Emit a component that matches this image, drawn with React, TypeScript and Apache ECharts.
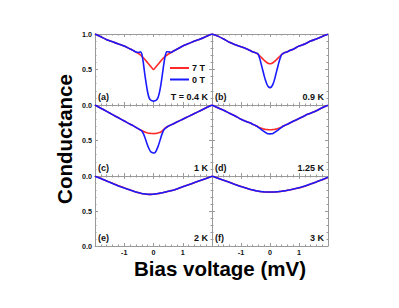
import React, { useEffect, useRef } from "react";
import * as echarts from "echarts";

const biasV = [
  -2, -1.8, -1.6, -1.4, -1.2, -1.0, -0.8, -0.7, -0.6, -0.5,
  -0.45, -0.4, -0.35, -0.3, -0.25, -0.2, -0.15, -0.1, -0.05, 0,
  0.05, 0.1, 0.15, 0.2, 0.25, 0.3, 0.35, 0.4, 0.45,
  0.5, 0.6, 0.7, 0.8, 1.0, 1.2, 1.4, 1.6, 1.8, 2.0,
];

// (a) T = 0.4 K
const a7T = [
  1.0, 0.96, 0.92, 0.89, 0.86, 0.83, 0.79, 0.77, 0.745, 0.72,
  0.705, 0.685, 0.665, 0.645, 0.62, 0.595, 0.57, 0.545, 0.52, 0.5,
  0.52, 0.545, 0.57, 0.595, 0.62, 0.645, 0.665, 0.685, 0.7,
  0.715, 0.74, 0.765, 0.785, 0.83, 0.865, 0.9, 0.93, 0.965, 1.0,
];
const a0T = [
  1.0, 0.96, 0.92, 0.89, 0.86, 0.83, 0.79, 0.77, 0.745, 0.74,
  0.75, 0.72, 0.6, 0.44, 0.3, 0.18, 0.1, 0.07, 0.06, 0.055,
  0.06, 0.07, 0.1, 0.17, 0.28, 0.42, 0.57, 0.69, 0.75,
  0.75, 0.74, 0.765, 0.785, 0.83, 0.865, 0.9, 0.93, 0.965, 1.0,
];
// (b) 0.9 K
const b7T = [
  1.0, 0.97, 0.93, 0.885, 0.85, 0.82, 0.79, 0.77, 0.75, 0.735,
  0.725, 0.71, 0.69, 0.67, 0.65, 0.63, 0.61, 0.595, 0.585, 0.58,
  0.585, 0.595, 0.61, 0.63, 0.65, 0.67, 0.69, 0.71, 0.725,
  0.735, 0.75, 0.77, 0.785, 0.83, 0.86, 0.9, 0.93, 0.965, 0.995,
];
const b0T = [
  1.0, 0.97, 0.93, 0.885, 0.85, 0.82, 0.79, 0.77, 0.75, 0.735,
  0.73, 0.71, 0.65, 0.57, 0.49, 0.41, 0.34, 0.285, 0.255, 0.245,
  0.255, 0.29, 0.35, 0.43, 0.51, 0.59, 0.66, 0.71, 0.725,
  0.735, 0.75, 0.77, 0.785, 0.83, 0.86, 0.9, 0.93, 0.965, 0.995,
];
// (c) 1 K
const c7T = [
  1.0, 0.955, 0.91, 0.865, 0.82, 0.775, 0.73, 0.71, 0.685, 0.66,
  0.65, 0.64, 0.63, 0.62, 0.612, 0.606, 0.602, 0.6, 0.598, 0.597,
  0.598, 0.6, 0.605, 0.612, 0.62, 0.635, 0.655, 0.675, 0.69,
  0.7, 0.72, 0.74, 0.76, 0.8, 0.84, 0.88, 0.92, 0.96, 1.0,
];
const c0T = [
  1.0, 0.955, 0.91, 0.865, 0.82, 0.775, 0.73, 0.71, 0.685, 0.66,
  0.65, 0.635, 0.6, 0.55, 0.49, 0.43, 0.38, 0.345, 0.33, 0.325,
  0.33, 0.36, 0.41, 0.47, 0.54, 0.6, 0.645, 0.67, 0.685,
  0.7, 0.72, 0.74, 0.76, 0.8, 0.84, 0.88, 0.92, 0.96, 1.0,
];
// (d) 1.25 K
const d7T = [
  1.0, 0.96, 0.925, 0.885, 0.845, 0.8, 0.765, 0.75, 0.73, 0.71,
  0.7, 0.69, 0.68, 0.672, 0.665, 0.66, 0.656, 0.654, 0.652, 0.652,
  0.652, 0.654, 0.656, 0.66, 0.665, 0.672, 0.68, 0.69, 0.7,
  0.71, 0.73, 0.75, 0.77, 0.81, 0.85, 0.885, 0.92, 0.96, 0.995,
];
const d0T = [
  1.0, 0.96, 0.925, 0.885, 0.845, 0.8, 0.765, 0.75, 0.73, 0.71,
  0.7, 0.685, 0.67, 0.655, 0.64, 0.625, 0.61, 0.6, 0.595, 0.593,
  0.595, 0.6, 0.61, 0.625, 0.64, 0.655, 0.67, 0.685, 0.7,
  0.71, 0.73, 0.75, 0.77, 0.81, 0.85, 0.885, 0.92, 0.96, 0.995,
];
// (e) 2 K
const e7T = [
  0.995, 0.965, 0.93, 0.895, 0.86, 0.83, 0.8, 0.785, 0.77, 0.76,
  0.755, 0.75, 0.746, 0.743, 0.74, 0.738, 0.737, 0.737, 0.738, 0.74,
  0.742, 0.745, 0.748, 0.752, 0.756, 0.76, 0.765, 0.77, 0.775,
  0.78, 0.79, 0.8, 0.815, 0.845, 0.875, 0.905, 0.935, 0.965, 0.995,
];
const e0T = [
  0.995, 0.963, 0.928, 0.893, 0.858, 0.828, 0.8, 0.785, 0.771, 0.761,
  0.756, 0.751, 0.747, 0.744, 0.741, 0.739, 0.738, 0.738, 0.739, 0.741,
  0.743, 0.746, 0.749, 0.753, 0.757, 0.761, 0.766, 0.771, 0.776,
  0.781, 0.791, 0.801, 0.816, 0.846, 0.876, 0.906, 0.936, 0.966, 0.996,
];
// (f) 3 K
const f7T = [
  1.0, 0.97, 0.94, 0.91, 0.88, 0.85, 0.825, 0.81, 0.8, 0.79,
  0.786, 0.782, 0.779, 0.776, 0.774, 0.772, 0.771, 0.77, 0.77, 0.77,
  0.77, 0.77, 0.771, 0.772, 0.774, 0.776, 0.778, 0.781, 0.784,
  0.787, 0.795, 0.803, 0.812, 0.83, 0.855, 0.885, 0.915, 0.945, 0.98,
];
const f0T = [
  0.999, 0.969, 0.939, 0.909, 0.879, 0.85, 0.825, 0.811, 0.801, 0.791,
  0.787, 0.783, 0.78, 0.777, 0.775, 0.773, 0.772, 0.771, 0.771, 0.771,
  0.771, 0.771, 0.772, 0.773, 0.775, 0.777, 0.779, 0.782, 0.785,
  0.788, 0.796, 0.804, 0.813, 0.831, 0.856, 0.886, 0.916, 0.946, 0.981,
];

const panelLetters = ["(a)", "(b)", "(c)", "(d)", "(e)", "(f)"];
const panelTemps = ["T = 0.4 K", "0.9 K", "1 K", "1.25 K", "2 K", "3 K"];
const redSets = [a7T, b7T, c7T, d7T, e7T, f7T];
const blueSets = [a0T, b0T, c0T, d0T, e0T, f0T];
const legendNames = ["7 T", "0 T"];

const RED = "#ff2a2a";
const BLUE = "#1a1aff";
const FRAME = "#9a9a9a";
const FONT = "'Liberation Sans', Arial, Helvetica, sans-serif";

export default function App() {
  const ref = useRef<HTMLDivElement>(null);
  useEffect(() => {
    if (!ref.current) return;
    const chart = echarts.init(ref.current, undefined, { renderer: "svg" });

    const colLeft = [95, 212];
    const colWidth = [117, 116];
    const rowTop = [34, 105, 176];
    const rowHeight = [71, 71, 70];

    const grids: any[] = [];
    const xAxes: any[] = [];
    const yAxes: any[] = [];
    const series: any[] = [];
    const graphics: any[] = [];

    for (let p = 0; p < 6; p++) {
      const col = p % 2;
      const row = Math.floor(p / 2);
      grids.push({
        left: colLeft[col],
        top: rowTop[row],
        width: colWidth[col],
        height: rowHeight[row],
        show: false,
      });
      const isBottom = row === 2;
      const baseX = {
        type: "value",
        gridIndex: p,
        min: -2,
        max: 2,
        interval: 1,
        splitLine: { show: false },
        axisLine: { show: true, onZero: false, lineStyle: { color: FRAME, width: 1 } },
        axisTick: { show: true, inside: true, length: 3, lineStyle: { color: FRAME } },
        minorTick: { show: true, splitNumber: 5, length: 1.5, lineStyle: { color: FRAME } },
      };
      xAxes.push({
        ...baseX,
        position: "bottom",
        axisLabel: {
          show: isBottom,
          showMinLabel: false,
          showMaxLabel: false,
          margin: 2,
          fontSize: 7.2,
          lineHeight: 8,
          fontWeight: "bold",
          fontFamily: FONT,
          color: "#111",
          formatter: (v: number) => String(v),
        },
      });
      xAxes.push({ ...baseX, position: "top", axisLabel: { show: false } });

      const baseY = {
        type: "value",
        gridIndex: p,
        min: 0,
        max: 1,
        interval: 0.5,
        splitLine: { show: false },
        axisLine: { show: true, onZero: false, lineStyle: { color: FRAME, width: 1 } },
        axisTick: { show: true, inside: true, length: 3, lineStyle: { color: FRAME } },
        minorTick: { show: true, splitNumber: 5, length: 1.5, lineStyle: { color: FRAME } },
      };
      yAxes.push({
        ...baseY,
        position: "left",
        axisLabel: {
          show: col === 0,
          showMaxLabel: row === 0,
          margin: 3,
          fontSize: 7.2,
          fontWeight: "bold",
          fontFamily: FONT,
          color: "#111",
          formatter: (v: number) => v.toFixed(1),
        },
      });
      yAxes.push({ ...baseY, position: "right", axisLabel: { show: false } });

      const xi = p * 2;
      const yi = p * 2;
      series.push({
        type: "line",
        name: p === 0 ? legendNames[0] : `7 T ${panelLetters[p]}`,
        xAxisIndex: xi,
        yAxisIndex: yi,
        data: biasV.map((v, i) => [v, redSets[p][i]]),
        showSymbol: false,
        symbol: "none",
        smooth: 0.25,
        lineStyle: { color: RED, width: 1.6 },
        itemStyle: { color: RED },
        z: 3,
      });
      series.push({
        type: "line",
        name: p === 0 ? legendNames[1] : `0 T ${panelLetters[p]}`,
        xAxisIndex: xi,
        yAxisIndex: yi,
        data: biasV.map((v, i) => [v, blueSets[p][i]]),
        showSymbol: false,
        symbol: "none",
        smooth: 0.25,
        lineStyle: { color: BLUE, width: 1.6 },
        itemStyle: { color: BLUE },
        z: 4,
      });

      const bottom = rowTop[row] + rowHeight[row];
      graphics.push({
        type: "text",
        left: colLeft[col] + 3,
        top: bottom - 13,
        style: {
          text: panelLetters[p],
          font: `bold 9px ${FONT}`,
          fill: "#111",
        },
      });
      graphics.push({
        type: "text",
        right: 399 - (colLeft[col] + colWidth[col]) + 4,
        top: bottom - 13,
        style: {
          text: panelTemps[p],
          font: `bold 9px ${FONT}`,
          fill: "#111",
          align: "right",
        },
      });
    }

    graphics.push({
      type: "text",
      x: 64,
      y: 139,
      rotation: Math.PI / 2,
      style: {
        text: "Conductance",
        font: `bold 20.5px ${FONT}`,
        fill: "#000",
        align: "center",
        verticalAlign: "middle",
      },
    });
    graphics.push({
      type: "text",
      x: 220,
      y: 268,
      style: {
        text: "Bias voltage (mV)",
        font: `bold 20.5px ${FONT}`,
        lineHeight: 18,
        fill: "#000",
        align: "center",
        verticalAlign: "middle",
      },
    });

    chart.setOption({
      animation: false,
      backgroundColor: "#fff",
      grid: grids,
      xAxis: xAxes,
      yAxis: yAxes,
      legend: {
        data: legendNames.map((n) => ({ name: n, icon: "rect" })),
        orient: "vertical",
        left: 170,
        top: 63,
        itemWidth: 19,
        itemHeight: 2,
        itemGap: 1.5,
        textStyle: { fontSize: 9, lineHeight: 10, fontWeight: "bold", fontFamily: FONT, color: "#111", padding: [0, 0, 0, -2] },
        selectedMode: false,
        padding: 0,
      },
      series,
      graphic: graphics,
    });
    return () => chart.dispose();
  }, []);
  return (
    <div
      ref={ref}
      style={{ position: "absolute", left: 0, top: 0, width: 399, height: 308 }}
    />
  );
}
